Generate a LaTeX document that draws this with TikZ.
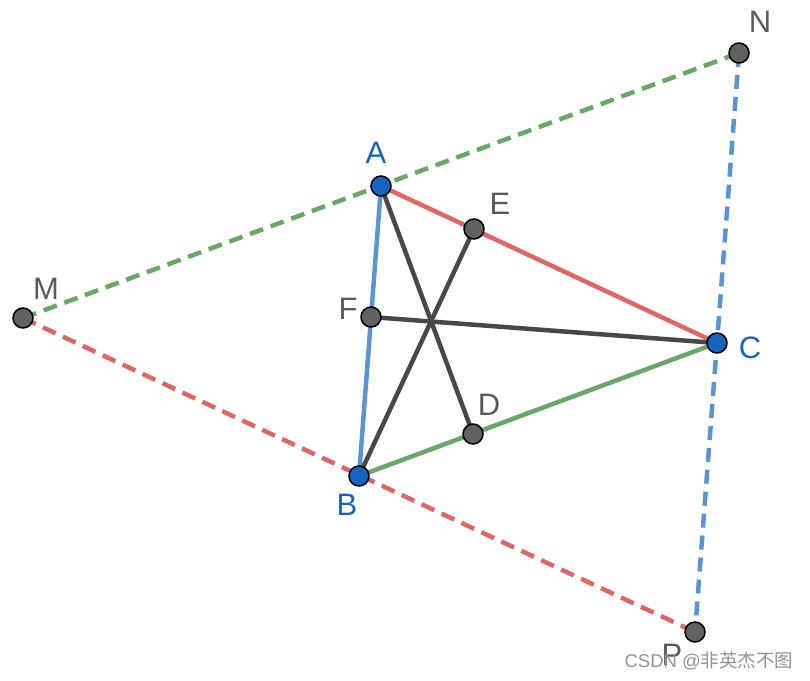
\documentclass[tikz,border=0pt]{standalone}
\usepackage{fontspec}
\setmainfont{Liberation Sans}
\newfontfamily\cjk{Noto Sans CJK SC}
\begin{document}
\begin{tikzpicture}[x=1pt,y=-1pt,
  seg/.style={line width=4.5pt},
  dline/.style={line width=4.5pt, dash pattern=on 14pt off 8pt},
  gpt/.style={circle, draw=black, fill=ggray, line width=1.5pt, minimum size=20pt, inner sep=0pt},
  bpt/.style={circle, draw=black, fill=gblue, line width=1.5pt, minimum size=20pt, inner sep=0pt},
  blab/.style={text=gblue, font=\fontsize{31}{34}\selectfont},
  glab/.style={text=glabc, font=\fontsize{31}{34}\selectfont}]
\definecolor{gblue}{HTML}{1565C0}
\definecolor{ggray}{HTML}{616161}
\definecolor{glabc}{HTML}{5A5A5A}
\definecolor{lblue}{HTML}{5B93D3}
\definecolor{lred}{HTML}{E06666}
\definecolor{lgreen}{HTML}{6AA66A}
\definecolor{ldark}{HTML}{484848}
\useasboundingbox (0,0) rectangle (810,680);
\coordinate (A) at (381,186);
\coordinate (B) at (359,476);
\coordinate (C) at (717,343);
\coordinate (D) at (473,434);
\coordinate (E) at (474,229);
\coordinate (F) at (371,317);
\coordinate (M) at (23,318);
\coordinate (N) at (739,53);
\coordinate (P) at (695,632);
% dashed
\draw[dline, lgreen] (M) -- (N);
\draw[dline, lred] (M) -- (P);
\draw[dline, lblue] (N) -- (P);
% solid
\draw[seg, lblue] (A) -- (B);
\draw[seg, lred] (A) -- (C);
\draw[seg, lgreen] (B) -- (C);
\draw[seg, ldark] (A) -- (D);
\draw[seg, ldark] (B) -- (E);
\draw[seg, ldark] (C) -- (F);
% points
\node[gpt] (pD) at (D) {};
\node[gpt] (pE) at (E) {};
\node[gpt] (pF) at (F) {};
\node[gpt] (pM) at (M) {};
\node[gpt] (pN) at (N) {};
\node[gpt] (pP) at (P) {};
\node[bpt] (pA) at (A) {};
\node[bpt] (pB) at (B) {};
\node[bpt] (pC) at (C) {};
% labels
\node[blab] (lA) at (376,153) {A};
\node[blab] (lB) at (347,505) {B};
\node[blab] (lC) at (750,348) {C};
\node[glab] (lD) at (489,405) {D};
\node[glab] (lE) at (500,204) {E};
\node[glab] (lF) at (348,309) {F};
\node[glab] (lM) at (46,289) {M};
\node[glab] (lN) at (760,22) {N};
\node[glab] (lP) at (672,655) {P};
\node[text=gray!85, font=\fontsize{18.5}{21}\selectfont, anchor=east] (wm) at (797,661) {CSDN @{\cjk 非英杰不图}};
\end{tikzpicture}
\end{document}
